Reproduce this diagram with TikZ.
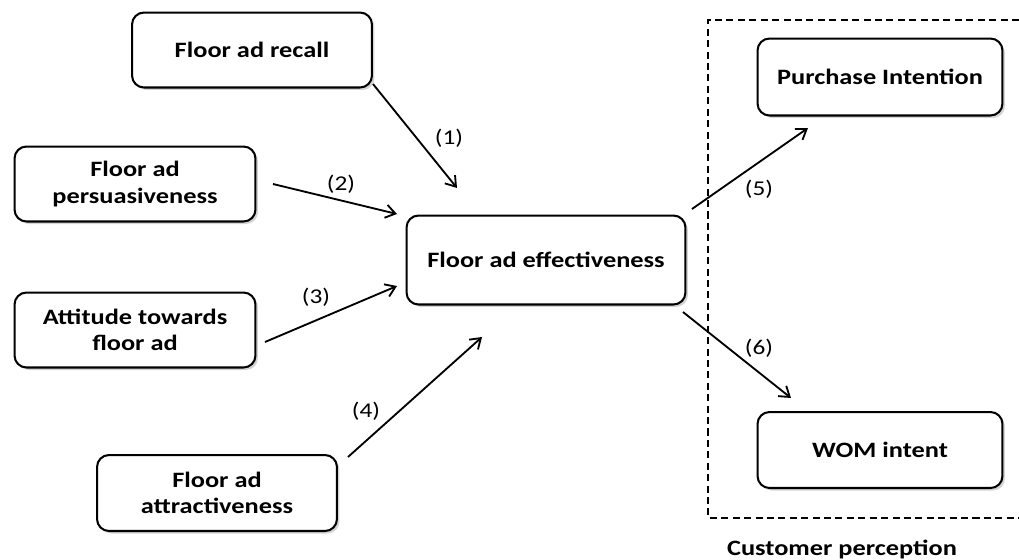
\documentclass[tikz,border=0pt]{standalone}
\usepackage{fontspec}
\setmainfont{Carlito}[FakeStretch=1.2]
\usetikzlibrary{shadows,arrows.meta}
\begin{document}
\begin{tikzpicture}[x=0.02cm,y=-0.02cm,
  box/.style={draw=black,line width=1.15pt,rounded corners=0.24cm,fill=white,
    drop shadow={shadow xshift=0.05cm,shadow yshift=-0.05cm,opacity=0.35},
    font=\fontsize{12.5}{15}\selectfont\bfseries,align=center,inner sep=0pt},
  link/.style={line width=1.05pt,-{Straight Barb[length=5.5pt,width=7.5pt,line width=1.05pt]}},
  lbl/.style={font=\fontsize{12}{14}\selectfont}]
\useasboundingbox (0,0) rectangle (1019,559);
\node[box,minimum width=4.8cm,minimum height=1.5cm] (recall) at (252,50) {Floor ad recall};
\node[box,minimum width=4.82cm,minimum height=1.5cm] (pers) at (135,184) {Floor ad\\persuasiveness};
\node[box,minimum width=4.82cm,minimum height=1.5cm] (att) at (135,330) {Attitude towards\\floor ad};
\node[box,minimum width=4.8cm,minimum height=1.52cm] (attr) at (217,493) {Floor ad\\attractiveness};
\node[box,minimum width=5.58cm,minimum height=1.78cm] (eff) at (546,260) {Floor ad effectiveness};
\node[box,minimum width=4.9cm,minimum height=1.54cm] (pi) at (880,77) {Purchase Intention};
\node[box,minimum width=4.9cm,minimum height=1.52cm] (wom) at (880,450) {WOM intent};
\draw[line width=1.15pt,dash pattern=on 4pt off 2.5pt] (1019,20) -- (708,20) -- (708,518) -- (1019,518);
\node[font=\fontsize{12.5}{15}\selectfont\bfseries] (cp) at (842,549) {Customer perception};
\coordinate (s1) at (373,84); \coordinate (e1) at (457,188);
\coordinate (s2) at (273,184); \coordinate (e2) at (397,214);
\coordinate (s3) at (265,342); \coordinate (e3) at (397,286);
\coordinate (s4) at (348,457); \coordinate (e4) at (482,337);
\coordinate (s5) at (692,209); \coordinate (e5) at (808,128);
\coordinate (s6) at (683,312); \coordinate (e6) at (791,398);
\draw[link] (s1) -- (e1);
\draw[link] (s2) -- (e2);
\draw[link] (s3) -- (e3);
\draw[link] (s4) -- (e4);
\draw[link] (s5) -- (e5);
\draw[link] (s6) -- (e6);
\node[lbl] (l1) at (449,138) {(1)};
\node[lbl] (l2) at (341,184) {(2)};
\node[lbl] (l3) at (316,297) {(3)};
\node[lbl] (l4) at (366,411) {(4)};
\node[lbl] (l5) at (759,189) {(5)};
\node[lbl] (l6) at (759,348) {(6)};
\end{tikzpicture}
\end{document}
